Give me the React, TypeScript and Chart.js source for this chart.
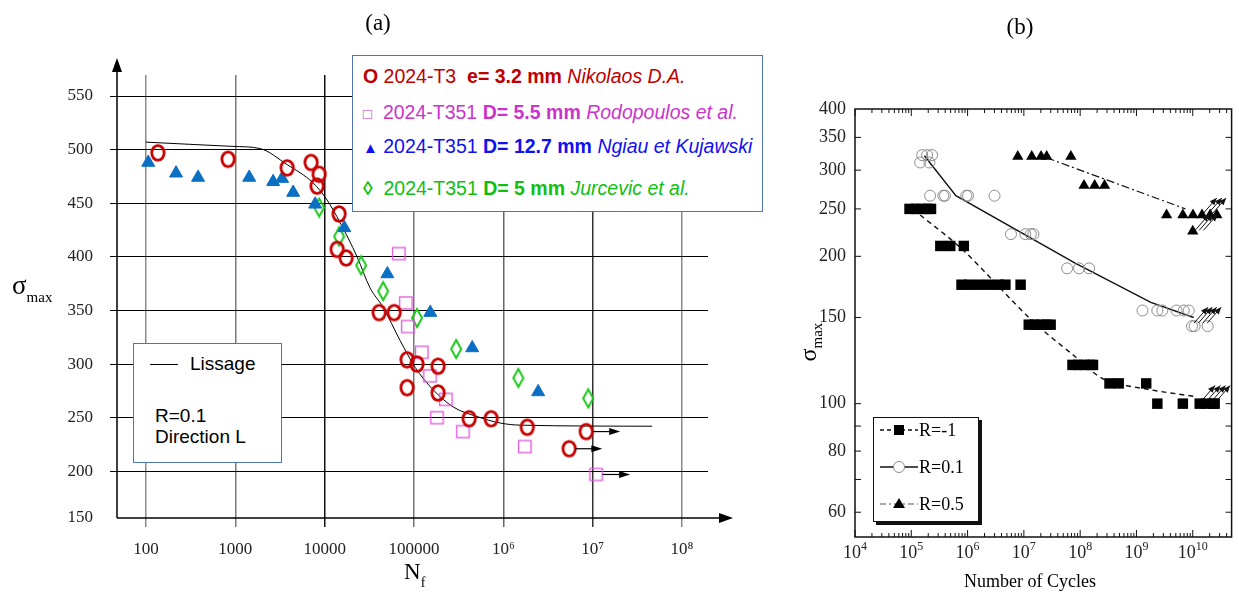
import React, { useEffect, useRef } from "react";
import { Chart, registerables } from "chart.js";
Chart.register(...registerables);

// ---------------- Panel (a) data ----------------
const aTickValues = [100, 1000, 10000, 100000, 1e6, 1e7, 1e8];
const aTickLabels = ["100", "1000", "10000", "100000", "10⁶", "10⁷", "10⁸"];
const aYTicks = [200, 250, 300, 350, 400, 450, 500, 550];

const nikolaosN = [136, 830, 3800, 7050, 8670, 8230, 14500, 13800, 17400, 40700, 59900, 83700, 108000, 186000, 83700, 186000, 414000, 730000, 1.85e6, 8.45e6, 5.45e6];
const nikolaosS = [497, 491, 483, 488, 477, 466, 440, 407, 399, 348, 348, 304, 300, 298, 278, 273, 249, 249, 241, 237, 221];

const rodopoulosN = [68100, 81600, 86000, 123000, 152000, 229000, 182000, 355000, 1.75e6, 1.1e7];
const rodopoulosS = [403, 357, 335, 311, 289, 267, 250, 237, 223, 197];

const ngiauN = [106, 217, 383, 1430, 2650, 3340, 4440, 7830, 16600, 50300, 152000, 448000, 2.45e6];
const ngiauS = [488, 478, 474, 474, 470, 473, 460, 449, 427, 384, 348, 315, 274];

const jurcevicN = [8670, 14500, 25600, 45100, 108000, 296000, 1.47e6, 8.9e6];
const jurcevicS = [446, 419, 392, 368, 343, 314, 287, 268];

const lissageN = [100, 944, 1890, 3800, 7410, 10640, 14860, 23070, 32210, 45080, 69800, 102800, 163700, 274000, 508000, 920000, 1.54e6, 4.63e7];
const lissageS = [507, 503, 501, 486, 469, 453, 432, 400, 371, 353, 322, 297, 276, 260, 251, 245, 243, 242];

const runoutFromN = [8.45e6, 5.45e6, 1.1e7];
const runoutFromS = [237, 221, 197];
const runoutToN = [2.03e7, 1.28e7, 2.62e7];

// ---------------- Panel (b) data ----------------
const bXTickValues = [1e4, 1e5, 1e6, 1e7, 1e8, 1e9, 1e10];
const bXTickExponents = ["4", "5", "6", "7", "8", "9", "10"];
const bYTicks = [60, 80, 100, 150, 200, 250, 300, 350, 400];

const rm1N = [9.3e4, 1.19e5, 1.51e5, 1.93e5, 2.24e5, 3.28e5, 4.92e5, 8.57e5, 7.8e5, 1.06e6, 1.59e6, 2.39e6, 3.58e6, 4.7e6, 8.75e6, 1.22e7, 1.54e7, 1.97e7, 2.51e7, 2.99e7, 7.3e7, 9.2e7, 1.17e8, 1.5e8, 1.69e8, 3.32e8, 4.84e8, 1.49e9, 2.35e9, 6.67e9, 1.33e10, 1.71e10, 2.28e10, 2.45e10];
const rm1S = [250, 250, 250, 250, 250, 210, 210, 210, 175, 175, 175, 175, 175, 175, 175, 145, 145, 145, 145, 145, 120, 120, 120, 120, 120, 110, 110, 110, 100, 100, 100, 100, 100, 100];

const r01N = [1.44e5, 2.1e5, 1.56e5, 1.91e5, 2.34e5, 2.16e5, 3.7e5, 3.97e5, 9.5e5, 1.02e6, 3.01e6, 5.9e6, 1.06e7, 1.33e7, 1.48e7, 5.87e7, 9.57e7, 1.44e8, 1.28e9, 2.35e9, 2.88e9, 5.14e9, 6.93e9, 8.49e9, 9.7e9, 1.08e10, 1.84e10];
const r01S = [311, 311, 322, 322, 322, 266, 266, 266, 266, 266, 266, 222, 222, 222, 222, 189, 189, 189, 155, 155, 155, 155, 155, 155, 144, 144, 144];

const r05N = [7.8e6, 1.38e7, 2.02e7, 2.54e7, 6.84e7, 1.17e8, 1.81e8, 2.71e8, 3.43e9, 6.67e9, 1.01e10, 1.46e10, 2.04e10, 2.68e10, 1.0e10];
const r05S = [320, 320, 320, 320, 320, 279, 279, 279, 243, 243, 243, 243, 243, 243, 225];

const rm1LineN = [1.44e5, 8.3e5, 1.38e7, 8.0e7, 2.7e8, 1.57e9, 1.04e10];
const rm1LineS = [243, 206, 148, 125, 112, 107, 103.5];
const r01LineN = [1.71e5, 6.2e5, 8.0e7, 1.8e9, 1.04e10];
const r01LineS = [321, 266, 194, 161, 150];
const r05LineN = [2.54e7, 7.4e9];
const r05LineS = [318, 250];

const bRunoutN = [1.05e10, 1.25e10, 1.5e10, 1.8e10, 1.5e10, 1.85e10, 2.2e10, 1.1e10, 1.3e10, 1.55e10, 1.4e10, 1.75e10, 2.15e10, 2.6e10];
const bRunoutS = [146, 146, 146, 146, 244, 244, 244, 226, 226, 226, 101, 101, 101, 101];

const pts = (xs: number[], ys: number[]) => xs.map((x, i) => ({ x, y: ys[i] }));

function arrowHead(ctx: CanvasRenderingContext2D, tx: number, ty: number, dx: number, dy: number, len: number, half: number) {
  const m = Math.hypot(dx, dy);
  const ux = dx / m, uy = dy / m;
  const bx = tx - ux * len, by = ty - uy * len;
  ctx.beginPath();
  ctx.moveTo(tx, ty);
  ctx.lineTo(bx - uy * half, by + ux * half);
  ctx.lineTo(bx + uy * half, by - ux * half);
  ctx.closePath();
  ctx.fill();
}

function makeO() {
  const c = document.createElement("canvas");
  c.width = 20; c.height = 22;
  const g = c.getContext("2d")!;
  g.strokeStyle = "#c80000"; g.lineWidth = 2.8;
  g.beginPath(); g.ellipse(10, 11, 6.2, 7.4, 0, 0, Math.PI * 2); g.stroke();
  return c;
}
function makeSquare() {
  const c = document.createElement("canvas");
  c.width = 16; c.height = 16;
  const g = c.getContext("2d")!;
  g.strokeStyle = "#dd55dd"; g.lineWidth = 1.3;
  g.strokeRect(1.5, 2, 12.5, 12);
  return c;
}
function makeDiamond() {
  const c = document.createElement("canvas");
  c.width = 14; c.height = 22;
  const g = c.getContext("2d")!;
  g.strokeStyle = "#19c819"; g.lineWidth = 2;
  g.beginPath(); g.moveTo(7, 2); g.lineTo(12, 11); g.lineTo(7, 20); g.lineTo(2, 11); g.closePath(); g.stroke();
  return c;
}

const vGridColors = ["#8a8a8a", "#7a7a7a", "#111", "#777", "#666", "#333", "#888"];
const SERIF = "'Liberation Serif', 'Times New Roman', serif";

export default function App() {
  const refA = useRef<HTMLCanvasElement>(null);
  const refB = useRef<HTMLCanvasElement>(null);

  useEffect(() => {
    const axesA = {
      id: "axesA",
      afterDatasetsDraw(chart: any) {
        const ctx = chart.ctx as CanvasRenderingContext2D;
        const xs = chart.scales.x, ys = chart.scales.y;
        ctx.save();
        ctx.strokeStyle = "#000"; ctx.fillStyle = "#000"; ctx.lineWidth = 1.2;
        for (let i = 0; i < runoutFromN.length; i++) {
          const x0 = xs.getPixelForValue(runoutFromN[i]) + 6;
          const x1 = xs.getPixelForValue(runoutToN[i]);
          const y = ys.getPixelForValue(runoutFromS[i]);
          ctx.beginPath(); ctx.moveTo(x0, y); ctx.lineTo(x1 - 8, y); ctx.stroke();
          arrowHead(ctx, x1, y, 1, 0, 11, 3.5);
        }
        const a = chart.chartArea;
        ctx.lineWidth = 1.5;
        ctx.beginPath(); ctx.moveTo(a.left, a.bottom); ctx.lineTo(a.left, 66); ctx.stroke();
        arrowHead(ctx, a.left, 58, 0, -1, 14, 5);
        ctx.beginPath(); ctx.moveTo(a.left, a.bottom); ctx.lineTo(722, a.bottom); ctx.stroke();
        arrowHead(ctx, 733, a.bottom, 1, 0, 14, 5);
        ctx.restore();
      },
    };

    const chartA = new Chart(refA.current!, {
      type: "scatter",
      data: {
        datasets: [
          { type: "line", data: pts(lissageN, lissageS), borderColor: "#000", borderWidth: 1, pointRadius: 0, cubicInterpolationMode: "monotone", fill: false, order: 10, clip: false } as any,
          { data: pts(nikolaosN, nikolaosS), pointStyle: makeO(), pointRadius: 8, clip: false } as any,
          { data: pts(rodopoulosN, rodopoulosS), pointStyle: makeSquare(), pointRadius: 8, clip: false } as any,
          { data: pts(ngiauN, ngiauS), pointStyle: "triangle", pointRadius: 7.5, backgroundColor: "#0b6fc4", borderColor: "#0b6fc4", borderWidth: 1, clip: false } as any,
          { data: pts(jurcevicN, jurcevicS), pointStyle: makeDiamond(), pointRadius: 8, clip: false } as any,
        ],
      },
      options: {
        animation: false,
        responsive: false,
        maintainAspectRatio: false,
        layout: { padding: { left: 0, right: 72, top: 75, bottom: 0 } },
        plugins: { legend: { display: false }, tooltip: { enabled: false } },
        scales: {
          x: {
            type: "logarithmic",
            min: 47.4,
            max: 1.95e8,
            afterBuildTicks: (s: any) => { s.ticks = aTickValues.map((v) => ({ value: v })); },
            afterFit: (s: any) => { s.height = 74; },
            ticks: {
              autoSkip: false, maxRotation: 0,
              callback: (_v: any, i: number) => aTickLabels[i],
              font: { family: SERIF, size: 17 },
              color: "#222", padding: 12,
            },
            grid: { color: (c: any) => vGridColors[c.index] || "#888", lineWidth: 1.5, tickLength: 9 },
            border: { display: false },
          },
          y: {
            type: "linear",
            min: 156.4,
            max: 569.6,
            afterBuildTicks: (s: any) => { s.ticks = [156.4, ...aYTicks].map((v) => ({ value: v })); },
            afterFit: (s: any) => { s.width = 117; },
            ticks: {
              autoSkip: false,
              callback: (v: any, i: number) => (i === 0 ? "150" : String(v)),
              font: { family: SERIF, size: 17 },
              color: "#222", padding: 17,
            },
            grid: { color: (c: any) => (c.index === 0 ? "rgba(0,0,0,0)" : "#000"), lineWidth: 1, tickLength: 7 },
            border: { display: false },
          },
        },
      } as any,
      plugins: [axesA],
    });

    const frameB = {
      id: "frameB",
      afterDatasetsDraw(chart: any) {
        const ctx = chart.ctx as CanvasRenderingContext2D;
        const xs = chart.scales.x, ys = chart.scales.y;
        const a = chart.chartArea;
        ctx.save();
        ctx.strokeStyle = "#111"; ctx.fillStyle = "#111";
        // runout arrows
        ctx.lineWidth = 1;
        for (let i = 0; i < bRunoutN.length; i++) {
          const x = xs.getPixelForValue(bRunoutN[i]);
          const y = ys.getPixelForValue(bRunoutS[i]);
          const tx = x + 14, ty = y - 16;
          ctx.beginPath(); ctx.moveTo(x, y); ctx.lineTo(tx, ty); ctx.stroke();
          arrowHead(ctx, tx, ty, 14, -16, 7, 3);
        }
        // frame
        ctx.lineWidth = 1.5;
        ctx.strokeRect(a.left, a.top, a.right - a.left, a.bottom - a.top);
        ctx.lineWidth = 1;
        for (let e = 4; e <= 10; e++) {
          for (let k = 1; k <= 9; k++) {
            const v = k * Math.pow(10, e);
            if (v > xs.max) continue;
            const px = xs.getPixelForValue(v);
            const len = k === 1 ? 7 : 4;
            ctx.beginPath();
            ctx.moveTo(px, a.bottom); ctx.lineTo(px, a.bottom - len);
            ctx.moveTo(px, a.top); ctx.lineTo(px, a.top + len);
            ctx.stroke();
          }
        }
        [60, 70, 80, 90, 100, 150, 200, 250, 300, 350].forEach((v) => {
          const py = ys.getPixelForValue(v);
          ctx.beginPath();
          ctx.moveTo(a.left, py); ctx.lineTo(a.left + 6, py);
          ctx.moveTo(a.right, py); ctx.lineTo(a.right - 6, py);
          ctx.stroke();
        });
        // x tick labels with superscript exponents
        ctx.fillStyle = "#222";
        ctx.textBaseline = "alphabetic";
        ctx.textAlign = "left";
        bXTickValues.forEach((v, i) => {
          const px = xs.getPixelForValue(v);
          ctx.font = `18px ${SERIF}`;
          const wb = ctx.measureText("10").width;
          ctx.font = `12px ${SERIF}`;
          const we = ctx.measureText(bXTickExponents[i]).width;
          const x0 = px - (wb + we) / 2;
          ctx.font = `18px ${SERIF}`;
          ctx.fillText("10", x0, a.bottom + 21);
          ctx.font = `12px ${SERIF}`;
          ctx.fillText(bXTickExponents[i], x0 + wb, a.bottom + 13);
        });
        ctx.restore();
      },
    };

    const chartB = new Chart(refB.current!, {
      type: "scatter",
      data: {
        datasets: [
          { type: "line", data: pts(rm1LineN, rm1LineS), borderColor: "#111", borderWidth: 1.4, borderDash: [5, 4], pointRadius: 0, tension: 0.3, fill: false, order: 10 } as any,
          { type: "line", data: pts(r01LineN, r01LineS), borderColor: "#111", borderWidth: 1.4, pointRadius: 0, fill: false, order: 10 } as any,
          { type: "line", data: pts(r05LineN, r05LineS), borderColor: "#111", borderWidth: 1.2, borderDash: [8, 3, 2, 3], pointRadius: 0, fill: false, order: 10 } as any,
          { data: pts(rm1N, rm1S), pointStyle: "rect", pointRadius: 7.4, backgroundColor: "#000", borderColor: "#000", borderWidth: 0, clip: false } as any,
          { data: pts(r01N, r01S), pointStyle: "circle", pointRadius: 5.5, backgroundColor: "rgba(255,255,255,0)", borderColor: "#8c8c8c", borderWidth: 1, clip: false } as any,
          { data: pts(r05N, r05S), pointStyle: "triangle", pointRadius: 6.5, backgroundColor: "#000", borderColor: "#000", borderWidth: 0, clip: false } as any,
        ],
      },
      options: {
        animation: false,
        responsive: false,
        maintainAspectRatio: false,
        layout: { padding: { left: 0, right: 4, top: 109, bottom: 0 } },
        plugins: { legend: { display: false }, tooltip: { enabled: false } },
        scales: {
          x: {
            type: "logarithmic",
            min: 1e4,
            max: 4.9e10,
            afterBuildTicks: (s: any) => { s.ticks = bXTickValues.map((v) => ({ value: v })); },
            afterFit: (s: any) => { s.height = 55; },
            ticks: { display: false },
            grid: { display: false, drawTicks: false },
            border: { display: false },
          },
          y: {
            type: "logarithmic",
            min: 53.4,
            max: 400,
            afterBuildTicks: (s: any) => { s.ticks = bYTicks.map((v) => ({ value: v })); },
            afterFit: (s: any) => { s.width = 75; },
            ticks: {
              autoSkip: false,
              callback: (v: any) => String(v),
              font: { family: SERIF, size: 18 },
              color: "#222", padding: 9,
            },
            grid: { display: false, drawTicks: false },
            border: { display: false },
          },
        },
      } as any,
      plugins: [frameB],
    });

    return () => { chartA.destroy(); chartB.destroy(); };
  }, []);

  const sans = "'Liberation Sans', Arial, sans-serif";
  const serif = SERIF;
  const legendRows = [
    { top: 76, color: "#c00000", content: (<><b>O</b> 2024-T3&nbsp; <b>e= 3.2 mm</b> <i>Nikolaos D.A.</i></>) },
    { top: 111.5, color: "#cc33cc", content: (<><span style={{ fontSize: 15 }}>□</span>&nbsp; 2024-T351 <b>D= 5.5 mm</b> <i>Rodopoulos et al.</i></>) },
    { top: 146, color: "#1010f0", content: (<><span style={{ fontSize: 15 }}>▲</span> 2024-T351 <b>D= 12.7 mm</b> <i>Ngiau et Kujawski</i></>) },
    { top: 188, color: "#10c010", content: (<><b>◊</b>&nbsp; 2024-T351 <b>D= 5 mm</b> <i>Jurcevic et al.</i></>) },
  ];

  return (
    <div style={{ position: "fixed", left: 0, top: 0, width: 1239, height: 592, background: "#fff", overflow: "hidden" }}>
      <canvas ref={refA} width={780} height={592} style={{ position: "absolute", left: 0, top: 0, width: 780, height: 592 }} />
      <canvas ref={refB} width={459} height={592} style={{ position: "absolute", left: 780, top: 0, width: 459, height: 592 }} />

      {/* titles */}
      <div style={{ position: "absolute", left: 358, top: 9, width: 40, textAlign: "center", fontFamily: serif, fontSize: 23, lineHeight: "28px" }}>(a)</div>
      <div style={{ position: "absolute", left: 1000, top: 13, width: 40, textAlign: "center", fontFamily: serif, fontSize: 23, lineHeight: "28px" }}>(b)</div>

      {/* axis titles (a) */}
      <div style={{ position: "absolute", left: 12, top: 270, fontFamily: serif, whiteSpace: "nowrap", lineHeight: "30px" }}>
        <span style={{ fontSize: 27 }}>σ</span>
        <span style={{ fontSize: 15, position: "relative", top: 8 }}>max</span>
      </div>
      <div style={{ position: "absolute", left: 404, top: 558, fontFamily: serif, whiteSpace: "nowrap", lineHeight: "28px" }}>
        <span style={{ fontSize: 23 }}>N</span>
        <span style={{ fontSize: 14, position: "relative", top: 8 }}>f</span>
      </div>

      {/* legend (a) */}
      <div style={{ position: "absolute", left: 352, top: 55, width: 411, height: 157, boxSizing: "border-box", border: "1px solid #4f74b8", background: "#fff" }} />
      {legendRows.map((r, i) => (
        <div key={i} style={{ position: "absolute", left: 363, top: r.top - 12, height: 24, lineHeight: "24px", whiteSpace: "nowrap", fontFamily: sans, fontSize: 19.5, color: r.color }}>
          {r.content}
        </div>
      ))}

      {/* box Lissage */}
      <div style={{ position: "absolute", left: 133, top: 343, width: 149, height: 120, boxSizing: "border-box", border: "1px solid #4f74b8", background: "#fff" }} />
      <div style={{ position: "absolute", left: 150, top: 364, width: 28, height: 1.2, background: "#000" }} />
      <div style={{ position: "absolute", left: 190, top: 352, lineHeight: "24px", fontFamily: sans, fontSize: 19, whiteSpace: "nowrap" }}>Lissage</div>
      <div style={{ position: "absolute", left: 155, top: 405, lineHeight: "22px", fontFamily: sans, fontSize: 19, whiteSpace: "nowrap" }}>R=0.1</div>
      <div style={{ position: "absolute", left: 155, top: 426, lineHeight: "22px", fontFamily: sans, fontSize: 19, whiteSpace: "nowrap" }}>Direction L</div>

      {/* axis titles (b) */}
      <div style={{ position: "absolute", left: 808, top: 342, width: 0, height: 0 }}>
        <div style={{ position: "absolute", left: -40, top: -15, width: 80, height: 30, transform: "rotate(-90deg)", textAlign: "center", fontFamily: serif, whiteSpace: "nowrap", lineHeight: "30px" }}>
          <span style={{ fontSize: 24 }}>σ</span>
          <span style={{ fontSize: 15, position: "relative", top: 6 }}>max</span>
        </div>
      </div>
      <div style={{ position: "absolute", left: 930, top: 570, width: 200, textAlign: "center", fontFamily: serif, fontSize: 18, lineHeight: "22px" }}>Number of Cycles</div>

      {/* legend (b) */}
      <div style={{ position: "absolute", left: 873, top: 417, width: 106, height: 105, boxSizing: "border-box", border: "1.5px solid #111", background: "#fff", boxShadow: "3px 3px 0 #111" }} />
      <svg style={{ position: "absolute", left: 873, top: 417 }} width={50} height={105}>
        <line x1={7} y1={13} x2={45} y2={13} stroke="#111" strokeWidth={1.3} strokeDasharray="4 3" />
        <rect x={21} y={8} width={10} height={10} fill="#000" />
        <line x1={7} y1={50} x2={45} y2={50} stroke="#111" strokeWidth={1.3} />
        <circle cx={26} cy={50} r={5.5} fill="#fff" stroke="#8c8c8c" strokeWidth={1} />
        <line x1={7} y1={87} x2={45} y2={87} stroke="#555" strokeWidth={1.1} strokeDasharray="6 3 2 3" />
        <polygon points="26,81 32,91 20,91" fill="#000" />
      </svg>
      {["R=-1", "R=0.1", "R=0.5"].map((t, i) => (
        <div key={t} style={{ position: "absolute", left: 919, top: 419 + i * 37, lineHeight: "22px", fontFamily: serif, fontSize: 18, whiteSpace: "nowrap" }}>{t}</div>
      ))}
    </div>
  );
}
